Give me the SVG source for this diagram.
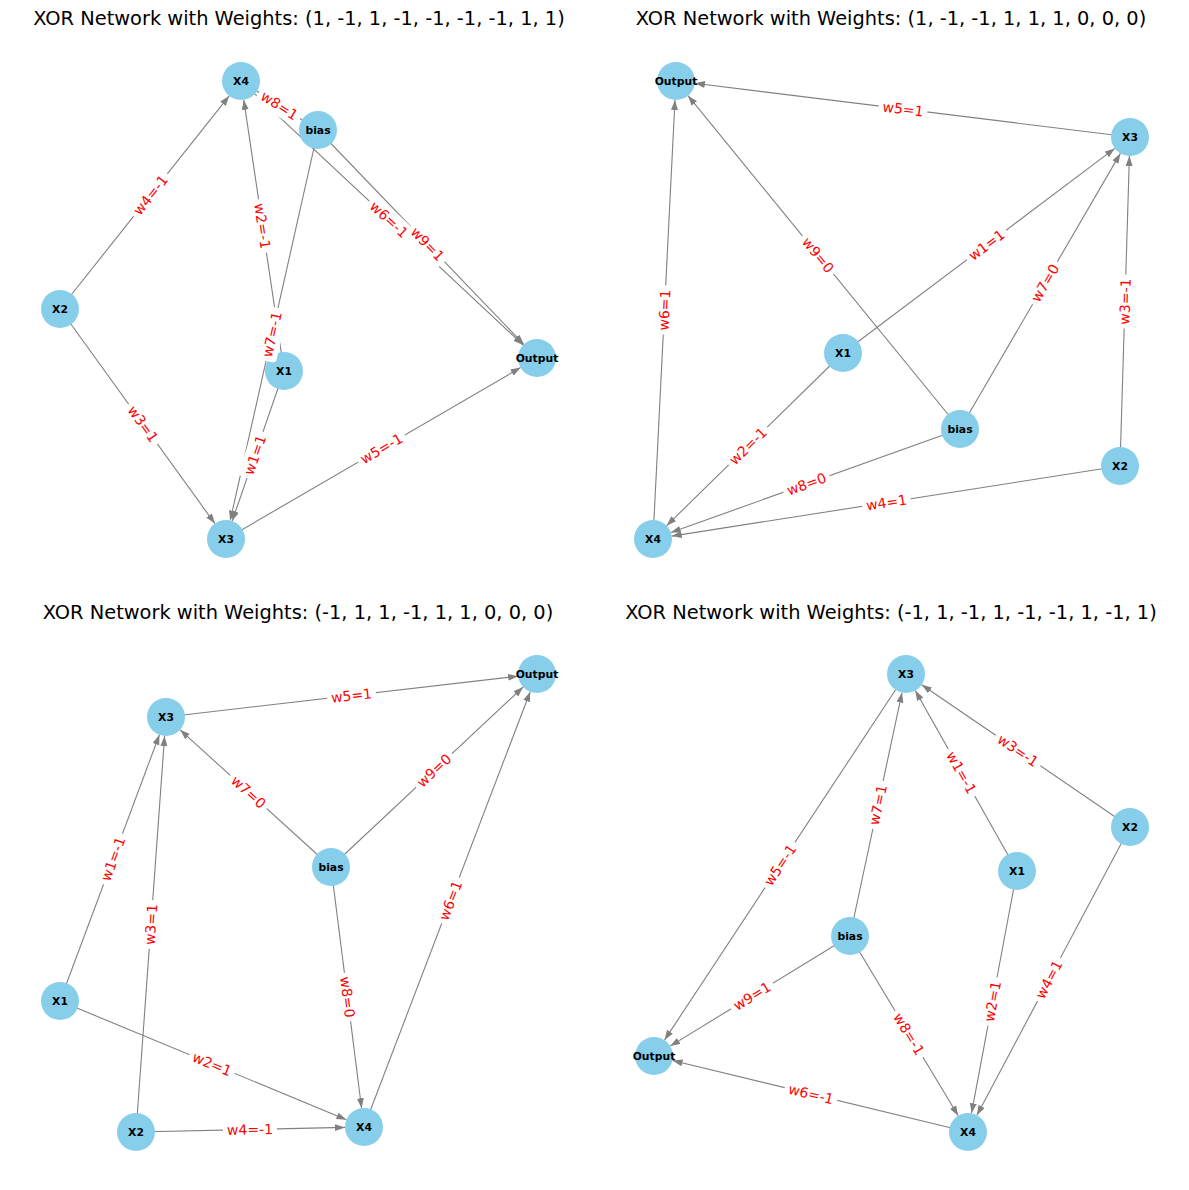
<svg xmlns="http://www.w3.org/2000/svg" width="1189" height="1190" viewBox="0 0 1189 1190">
<style>
.title{font-family:"DejaVu Sans",sans-serif;font-size:19.4px;fill:#000;text-anchor:middle}
.edge{stroke:#808080;stroke-width:1.1;fill:none;marker-end:url(#arr)}
.node circle{fill:#87CEEB}
.node text{font-family:"DejaVu Sans",sans-serif;font-size:10.8px;font-weight:bold;fill:#000;text-anchor:middle;dominant-baseline:central}
.el rect{fill:#fff}
.el text{font-family:"DejaVu Sans",sans-serif;font-size:14px;fill:#ff0000;text-anchor:middle;dominant-baseline:central}
</style>
<defs>
<marker id="arr" markerUnits="userSpaceOnUse" markerWidth="11" markerHeight="8" refX="10" refY="3.5" orient="auto">
<path d="M0,0 L10,3.5 L0,7 Z" fill="#808080"/>
</marker>
</defs>
<rect width="1189" height="1190" fill="#fff"/>

<!-- Titles -->
<text class="title" x="299" y="25">XOR Network with Weights: (1, -1, 1, -1, -1, -1, -1, 1, 1)</text>
<text class="title" x="891" y="25">XOR Network with Weights: (1, -1, -1, 1, 1, 1, 0, 0, 0)</text>
<text class="title" x="298" y="619">XOR Network with Weights: (-1, 1, 1, -1, 1, 1, 0, 0, 0)</text>
<text class="title" x="891" y="619">XOR Network with Weights: (-1, 1, -1, 1, -1, -1, 1, -1, 1)</text>

<!-- Connectors -->
<g id="connectors">
<!-- Subplot 1 -->
<line class="edge" x1="284" y1="371" x2="232.2" y2="521.0"/>
<line class="edge" x1="284" y1="371" x2="243.8" y2="99.8"/>
<line class="edge" x1="60" y1="309" x2="214.9" y2="523.6"/>
<line class="edge" x1="60" y1="309" x2="229.2" y2="95.9"/>
<line class="edge" x1="226" y1="539" x2="520.6" y2="367.6"/>
<line class="edge" x1="241" y1="81" x2="523.1" y2="345.0"/>
<line class="edge" x1="318" y1="130" x2="230.2" y2="520.5"/>
<line class="edge" x1="318" y1="130" x2="257.0" y2="91.2"/>
<line class="edge" x1="318" y1="130" x2="523.8" y2="344.3"/>
<!-- Subplot 2 -->
<line class="edge" x1="843" y1="353" x2="1114.8" y2="148.4"/>
<line class="edge" x1="843" y1="353" x2="666.6" y2="525.7"/>
<line class="edge" x1="1120" y1="466" x2="1129.4" y2="156.0"/>
<line class="edge" x1="1120" y1="466" x2="671.8" y2="536.1"/>
<line class="edge" x1="1130" y1="137" x2="694.9" y2="83.3"/>
<line class="edge" x1="653" y1="539" x2="675.0" y2="100.0"/>
<line class="edge" x1="960" y1="429" x2="1120.4" y2="153.4"/>
<line class="edge" x1="960" y1="429" x2="670.9" y2="532.6"/>
<line class="edge" x1="960" y1="429" x2="688.0" y2="95.7"/>
<!-- Subplot 3 -->
<line class="edge" x1="60" y1="1001" x2="159.4" y2="734.8"/>
<line class="edge" x1="60" y1="1001" x2="346.4" y2="1119.7"/>
<line class="edge" x1="136" y1="1132" x2="164.6" y2="736.0"/>
<line class="edge" x1="136" y1="1132" x2="345.0" y2="1127.4"/>
<line class="edge" x1="166" y1="717" x2="518.1" y2="676.2"/>
<line class="edge" x1="364" y1="1127" x2="530.2" y2="691.7"/>
<line class="edge" x1="331" y1="867" x2="180.1" y2="729.8"/>
<line class="edge" x1="331" y1="867" x2="361.6" y2="1108.2"/>
<line class="edge" x1="331" y1="867" x2="523.1" y2="687.0"/>
<!-- Subplot 4 -->
<line class="edge" x1="1017" y1="871" x2="915.3" y2="690.6"/>
<line class="edge" x1="1017" y1="871" x2="971.5" y2="1113.3"/>
<line class="edge" x1="1130" y1="827" x2="921.7" y2="684.7"/>
<line class="edge" x1="1130" y1="827" x2="976.9" y2="1115.2"/>
<line class="edge" x1="906" y1="674" x2="664.5" y2="1040.1"/>
<line class="edge" x1="968" y1="1132" x2="672.5" y2="1060.5"/>
<line class="edge" x1="850" y1="936" x2="902.0" y2="692.6"/>
<line class="edge" x1="850" y1="936" x2="958.2" y2="1115.7"/>
<line class="edge" x1="850" y1="936" x2="670.2" y2="1046.1"/>
</g>

<!-- Nodes: Subplot 1 -->
<g id="p1-X4" class="node"><circle cx="241" cy="81" r="19"/><text x="241" y="81">X4</text></g>
<g id="p1-bias" class="node"><circle cx="318" cy="130" r="19"/><text x="318" y="130">bias</text></g>
<g id="p1-X2" class="node"><circle cx="60" cy="309" r="19"/><text x="60" y="309">X2</text></g>
<g id="p1-X1" class="node"><circle cx="284" cy="371" r="19"/><text x="284" y="371">X1</text></g>
<g id="p1-Output" class="node"><circle cx="537" cy="358" r="19"/><text x="537" y="358">Output</text></g>
<g id="p1-X3" class="node"><circle cx="226" cy="539" r="19"/><text x="226" y="539">X3</text></g>

<!-- Nodes: Subplot 2 -->
<g id="p2-Output" class="node"><circle cx="676" cy="81" r="19"/><text x="676" y="81">Output</text></g>
<g id="p2-X3" class="node"><circle cx="1130" cy="137" r="19"/><text x="1130" y="137">X3</text></g>
<g id="p2-X1" class="node"><circle cx="843" cy="353" r="19"/><text x="843" y="353">X1</text></g>
<g id="p2-bias" class="node"><circle cx="960" cy="429" r="19"/><text x="960" y="429">bias</text></g>
<g id="p2-X2" class="node"><circle cx="1120" cy="466" r="19"/><text x="1120" y="466">X2</text></g>
<g id="p2-X4" class="node"><circle cx="653" cy="539" r="19"/><text x="653" y="539">X4</text></g>

<!-- Nodes: Subplot 3 -->
<g id="p3-Output" class="node"><circle cx="537" cy="674" r="19"/><text x="537" y="674">Output</text></g>
<g id="p3-X3" class="node"><circle cx="166" cy="717" r="19"/><text x="166" y="717">X3</text></g>
<g id="p3-bias" class="node"><circle cx="331" cy="867" r="19"/><text x="331" y="867">bias</text></g>
<g id="p3-X1" class="node"><circle cx="60" cy="1001" r="19"/><text x="60" y="1001">X1</text></g>
<g id="p3-X2" class="node"><circle cx="136" cy="1132" r="19"/><text x="136" y="1132">X2</text></g>
<g id="p3-X4" class="node"><circle cx="364" cy="1127" r="19"/><text x="364" y="1127">X4</text></g>

<!-- Nodes: Subplot 4 -->
<g id="p4-X3" class="node"><circle cx="906" cy="674" r="19"/><text x="906" y="674">X3</text></g>
<g id="p4-X2" class="node"><circle cx="1130" cy="827" r="19"/><text x="1130" y="827">X2</text></g>
<g id="p4-X1" class="node"><circle cx="1017" cy="871" r="19"/><text x="1017" y="871">X1</text></g>
<g id="p4-bias" class="node"><circle cx="850" cy="936" r="19"/><text x="850" y="936">bias</text></g>
<g id="p4-Output" class="node"><circle cx="654" cy="1056" r="19"/><text x="654" y="1056">Output</text></g>
<g id="p4-X4" class="node"><circle cx="968" cy="1132" r="19"/><text x="968" y="1132">X4</text></g>

<!-- Edge labels -->
<g id="edge-labels">
<!-- Subplot 1 -->
<g class="el" transform="translate(255,455) rotate(-70.95)"><rect x="-24.5" y="-10" width="49" height="20" rx="4"/><text>w1=1</text></g>
<g class="el" transform="translate(262.5,226) rotate(81.57)"><rect x="-27" y="-10" width="54" height="20" rx="4"/><text>w2=-1</text></g>
<g class="el" transform="translate(143,424) rotate(54.18)"><rect x="-24.5" y="-10" width="49" height="20" rx="4"/><text>w3=1</text></g>
<g class="el" transform="translate(150.5,195) rotate(-51.55)"><rect x="-27" y="-10" width="54" height="20" rx="4"/><text>w4=-1</text></g>
<g class="el" transform="translate(381.5,448.5) rotate(-30.2)"><rect x="-27" y="-10" width="54" height="20" rx="4"/><text>w5=-1</text></g>
<g class="el" transform="translate(389,219.5) rotate(43.1)"><rect x="-27" y="-10" width="54" height="20" rx="4"/><text>w6=-1</text></g>
<g class="el" transform="translate(272,334.5) rotate(-77.32)"><rect x="-27" y="-10" width="54" height="20" rx="4"/><text>w7=-1</text></g>
<g class="el" transform="translate(279.5,105.5) rotate(32.47)"><rect x="-24.5" y="-10" width="49" height="20" rx="4"/><text>w8=1</text></g>
<g class="el" transform="translate(427.5,244) rotate(46.15)"><rect x="-24.5" y="-10" width="49" height="20" rx="4"/><text>w9=1</text></g>
<!-- Subplot 2 -->
<g class="el" transform="translate(986.5,245) rotate(-36.96)"><rect x="-24.5" y="-10" width="49" height="20" rx="4"/><text>w1=1</text></g>
<g class="el" transform="translate(748,446) rotate(-44.39)"><rect x="-27" y="-10" width="54" height="20" rx="4"/><text>w2=-1</text></g>
<g class="el" transform="translate(1125,301.5) rotate(-88.26)"><rect x="-27" y="-10" width="54" height="20" rx="4"/><text>w3=-1</text></g>
<g class="el" transform="translate(886.5,502.5) rotate(-8.88)"><rect x="-24.5" y="-10" width="49" height="20" rx="4"/><text>w4=1</text></g>
<g class="el" transform="translate(903,109) rotate(7.03)"><rect x="-24.5" y="-10" width="49" height="20" rx="4"/><text>w5=1</text></g>
<g class="el" transform="translate(664.5,310) rotate(-87.13)"><rect x="-24.5" y="-10" width="49" height="20" rx="4"/><text>w6=1</text></g>
<g class="el" transform="translate(1045,283) rotate(-59.79)"><rect x="-24.5" y="-10" width="49" height="20" rx="4"/><text>w7=0</text></g>
<g class="el" transform="translate(806.5,484) rotate(-19.71)"><rect x="-24.5" y="-10" width="49" height="20" rx="4"/><text>w8=0</text></g>
<g class="el" transform="translate(818,255) rotate(50.79)"><rect x="-24.5" y="-10" width="49" height="20" rx="4"/><text>w9=0</text></g>
<!-- Subplot 3 -->
<g class="el" transform="translate(113,859) rotate(-69.53)"><rect x="-27" y="-10" width="54" height="20" rx="4"/><text>w1=-1</text></g>
<g class="el" transform="translate(212,1064) rotate(22.51)"><rect x="-24.5" y="-10" width="49" height="20" rx="4"/><text>w2=1</text></g>
<g class="el" transform="translate(151,924.5) rotate(-85.87)"><rect x="-24.5" y="-10" width="49" height="20" rx="4"/><text>w3=1</text></g>
<g class="el" transform="translate(250,1129.5) rotate(-1.26)"><rect x="-27" y="-10" width="54" height="20" rx="4"/><text>w4=-1</text></g>
<g class="el" transform="translate(351.5,695.5) rotate(-6.61)"><rect x="-24.5" y="-10" width="49" height="20" rx="4"/><text>w5=1</text></g>
<g class="el" transform="translate(450.5,900.5) rotate(-69.1)"><rect x="-24.5" y="-10" width="49" height="20" rx="4"/><text>w6=1</text></g>
<g class="el" transform="translate(248.5,792) rotate(42.27)"><rect x="-24.5" y="-10" width="49" height="20" rx="4"/><text>w7=0</text></g>
<g class="el" transform="translate(347.5,997) rotate(82.77)"><rect x="-24.5" y="-10" width="49" height="20" rx="4"/><text>w8=0</text></g>
<g class="el" transform="translate(434,770.5) rotate(-43.13)"><rect x="-24.5" y="-10" width="49" height="20" rx="4"/><text>w9=0</text></g>
<!-- Subplot 4 -->
<g class="el" transform="translate(961.5,772.5) rotate(60.6)"><rect x="-27" y="-10" width="54" height="20" rx="4"/><text>w1=-1</text></g>
<g class="el" transform="translate(992.5,1001.5) rotate(-79.37)"><rect x="-24.5" y="-10" width="49" height="20" rx="4"/><text>w2=1</text></g>
<g class="el" transform="translate(1018,750.5) rotate(34.33)"><rect x="-27" y="-10" width="54" height="20" rx="4"/><text>w3=-1</text></g>
<g class="el" transform="translate(1049,979.5) rotate(-62.03)"><rect x="-24.5" y="-10" width="49" height="20" rx="4"/><text>w4=1</text></g>
<g class="el" transform="translate(780,865) rotate(-56.58)"><rect x="-27" y="-10" width="54" height="20" rx="4"/><text>w5=-1</text></g>
<g class="el" transform="translate(811,1094) rotate(13.6)"><rect x="-27" y="-10" width="54" height="20" rx="4"/><text>w6=-1</text></g>
<g class="el" transform="translate(878,805) rotate(-77.94)"><rect x="-24.5" y="-10" width="49" height="20" rx="4"/><text>w7=1</text></g>
<g class="el" transform="translate(909,1034) rotate(58.95)"><rect x="-27" y="-10" width="54" height="20" rx="4"/><text>w8=-1</text></g>
<g class="el" transform="translate(752,996) rotate(-31.48)"><rect x="-24.5" y="-10" width="49" height="20" rx="4"/><text>w9=1</text></g>
</g>
</svg>
